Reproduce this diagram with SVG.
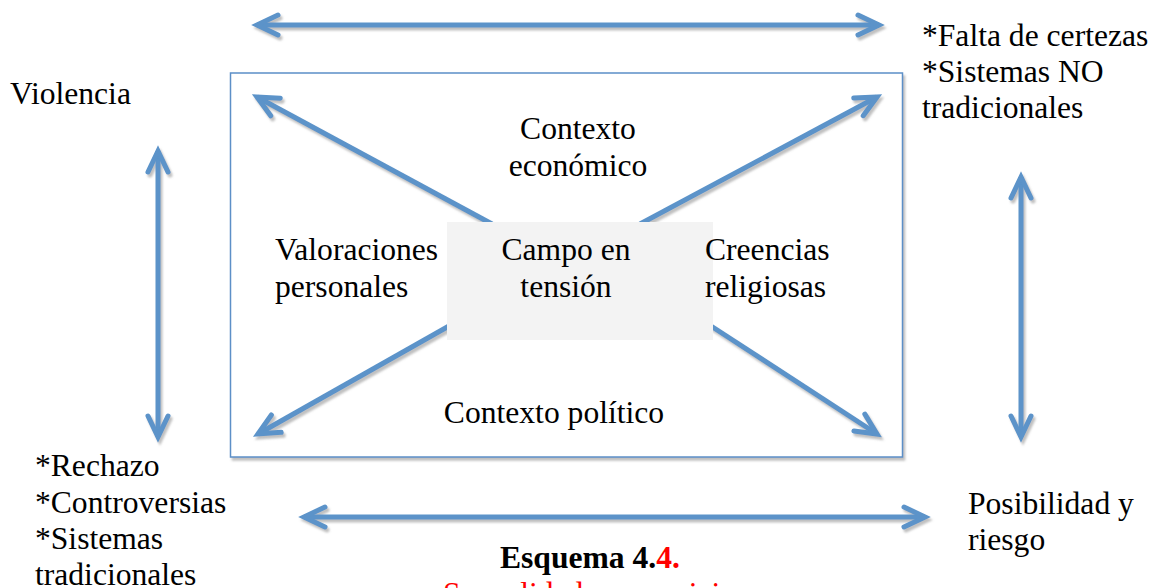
<svg xmlns="http://www.w3.org/2000/svg" width="1154" height="588" viewBox="0 0 1154 588">
<style>
.t{font-family:"Liberation Serif","Times New Roman",serif;font-size:31.6px;fill:#000}
.m{text-anchor:middle}
.b{font-weight:bold}
.r{fill:#ff0000}
.ar{fill:none;stroke:#5b93c9;stroke-width:5}
</style>
<defs>
<filter id="sh" x="-20%" y="-20%" width="140%" height="140%">
<feDropShadow dx="2" dy="3" stdDeviation="1" flood-color="#8c8c8c" flood-opacity="0.55"/>
</filter>
<marker id="ah" markerUnits="userSpaceOnUse" viewBox="-30 -15 40 30" refX="0" refY="0" markerWidth="40" markerHeight="30" orient="auto-start-reverse" overflow="visible">
<path d="M -21 -10 L 0 0 L -21 10" fill="none" stroke="#5b93c9" stroke-width="5" stroke-linecap="round" stroke-linejoin="miter"/>
</marker>
</defs>
<rect width="1154" height="588" fill="#fff"/>

<g id="frame" filter="url(#sh)">
<rect x="230.5" y="73" width="672" height="384" fill="#fff" stroke="#5b8fc7" stroke-width="1.5"/>
</g>

<g id="connectors" filter="url(#sh)">
<line class="ar" x1="257" y1="25" x2="879" y2="25" marker-start="url(#ah)" marker-end="url(#ah)"/>
<line class="ar" x1="304" y1="517" x2="925" y2="517" marker-start="url(#ah)" marker-end="url(#ah)"/>
<line class="ar" x1="158" y1="151" x2="158" y2="437" marker-start="url(#ah)" marker-end="url(#ah)"/>
<line class="ar" x1="1021" y1="177" x2="1021" y2="437" marker-start="url(#ah)" marker-end="url(#ah)"/>
<line class="ar" x1="492" y1="224" x2="257" y2="97" marker-end="url(#ah)"/>
<line class="ar" x1="640" y1="224" x2="877" y2="97" marker-end="url(#ah)"/>
<line class="ar" x1="449" y1="326" x2="258" y2="434" marker-end="url(#ah)"/>
<line class="ar" x1="711" y1="326" x2="877" y2="434" marker-end="url(#ah)"/>
</g>

<g id="center">
<rect x="447" y="222" width="266" height="118" fill="#f3f3f3"/>
<text class="t m" x="566" y="260">Campo en</text>
<text class="t m" x="566" y="297">tensión</text>
</g>

<g id="economico">
<text class="t m" x="578" y="139">Contexto</text>
<text class="t m" x="578" y="176">económico</text>
</g>
<g id="valoraciones">
<text class="t" x="275" y="260">Valoraciones</text>
<text class="t" x="275" y="297">personales</text>
</g>
<g id="creencias">
<text class="t" x="705" y="260">Creencias</text>
<text class="t" x="705" y="297">religiosas</text>
</g>
<g id="politico">
<text class="t m" x="554" y="423">Contexto político</text>
</g>
<g id="violencia">
<text class="t" x="10" y="104">Violencia</text>
</g>
<g id="certezas">
<text class="t" x="922" y="46">*Falta de certezas</text>
<text class="t" x="922" y="82">*Sistemas NO</text>
<text class="t" x="922" y="118">tradicionales</text>
</g>
<g id="rechazo">
<text class="t" x="35" y="476">*Rechazo</text>
<text class="t" x="35" y="513">*Controversias</text>
<text class="t" x="35" y="549">*Sistemas</text>
<text class="t" x="35" y="585">tradicionales</text>
</g>
<g id="posibilidad">
<text class="t" x="968" y="514">Posibilidad y</text>
<text class="t" x="968" y="550">riesgo</text>
</g>
<g id="caption">
<text class="t b" x="500" y="568">Esquema 4.<tspan class="r">4.</tspan></text>
<text class="t r" x="443" y="604">Sexualidad en oposiciones</text>
</g>
</svg>
